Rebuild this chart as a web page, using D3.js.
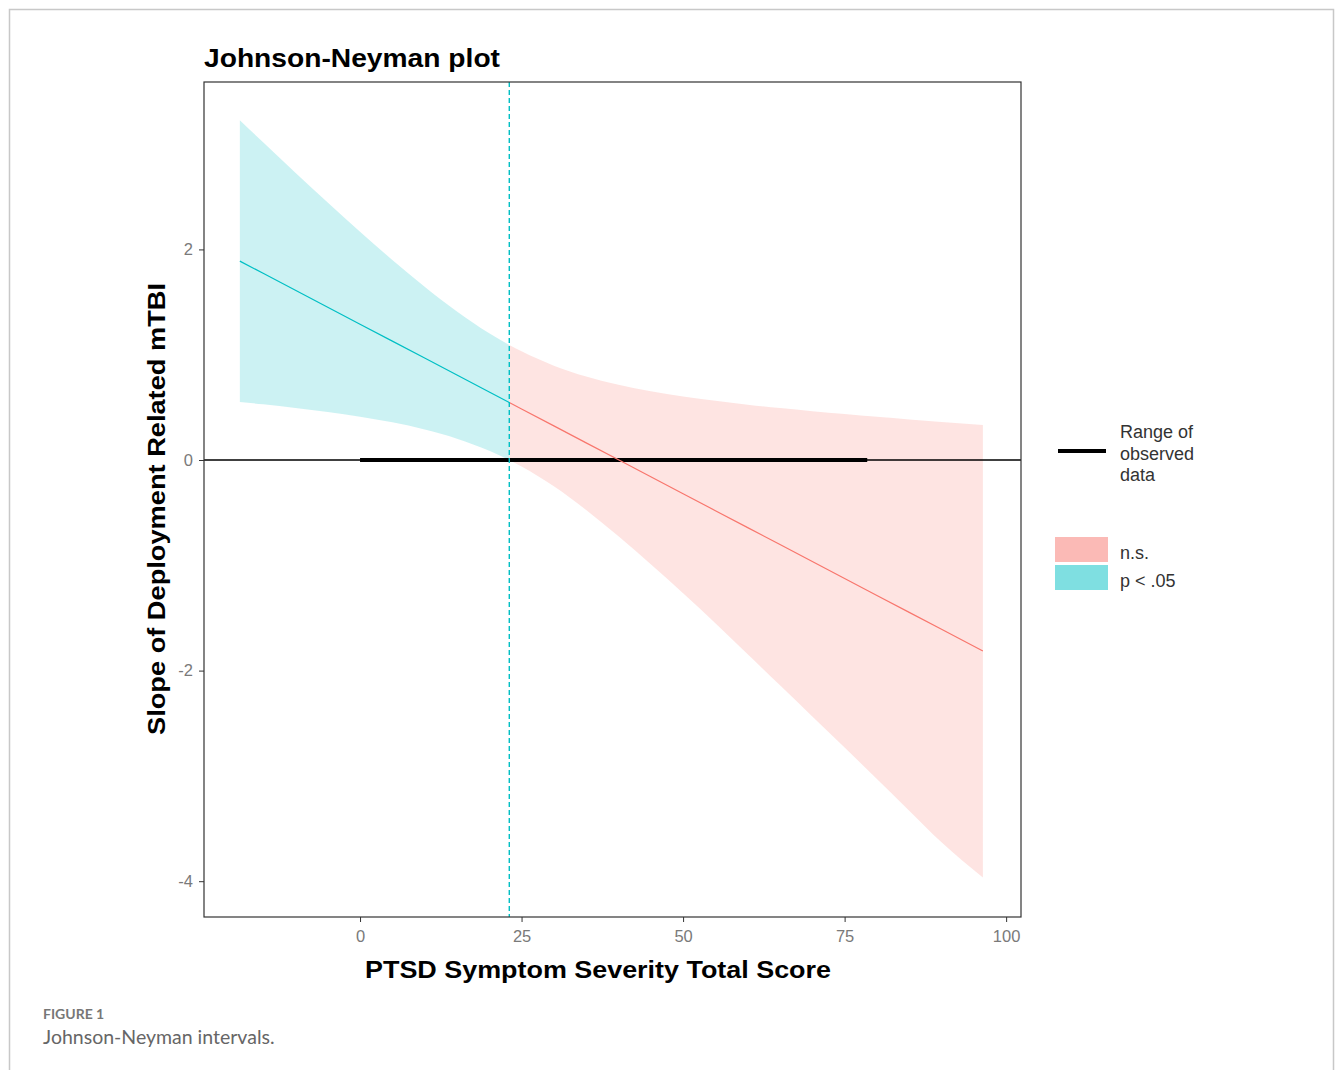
<!DOCTYPE html>
<html><head><meta charset="utf-8">
<script src="https://cdn.jsdelivr.net/npm/d3@7"></script>
<style>
body{margin:0;background:#fff;}
svg text{font-family:"Liberation Sans",Arial,sans-serif;}
</style></head>
<body>
<svg id="c" width="1335" height="1070"></svg>
<script>
// ---- data ----
const xTickValues = [0, 25, 50, 75, 100];
const yTickValues = [-4, -2, 0, 2];
const moderator = [-18.6, -15, -10, -5, 0, 5, 10, 15, 20, 23.1, 25, 30, 35, 40, 45, 50, 55, 60, 65, 70, 75, 80, 85, 90, 96.4];
const slope = [1.889, 1.773, 1.612, 1.451, 1.290, 1.129, 0.968, 0.807, 0.646, 0.546, 0.485, 0.324, 0.163, 0.002, -0.159, -0.320, -0.481, -0.642, -0.803, -0.964, -1.125, -1.286, -1.447, -1.608, -1.814];
const upperCI = [3.227, 3.017, 2.729, 2.446, 2.168, 1.900, 1.646, 1.411, 1.204, 1.093, 1.032, 0.896, 0.793, 0.715, 0.654, 0.604, 0.562, 0.526, 0.493, 0.463, 0.436, 0.410, 0.385, 0.361, 0.332];
const lowerCI = [0.551, 0.529, 0.495, 0.456, 0.412, 0.358, 0.290, 0.203, 0.088, 0.000, -0.062, -0.250, -0.475, -0.725, -0.990, -1.265, -1.550, -1.845, -2.140, -2.435, -2.730, -3.030, -3.330, -3.630, -3.965];
const jnPoint = 23.1;
const observedRange = [0, 78.5];
const legendLabels = ["n.s.", "p < .05"];

// ---- layout ----
const svg = d3.select("#c");
const P = {l:204, r:1021, t:82, b:917};
const x = d3.scaleLinear().domain([-24.15, 102.3]).range([P.l, P.r]);
const y = d3.scaleLinear().domain([-4.34, 3.59]).range([P.b, P.t]);
const teal = "#00BFC4", red = "#F8766D";

// outer frame
svg.append("path").attr("d","M9.5,1075 V9.5 H1333.5 V1075").attr("fill","none").attr("stroke","#c8c8c8").attr("stroke-width",1.5);

const data = moderator.map((m,i)=>({m, s:slope[i], u:upperCI[i], l:lowerCI[i]}));
const sig = data.filter(d=>d.m<=jnPoint);
const ns = data.filter(d=>d.m>=jnPoint);

svg.append("clipPath").attr("id","pc").append("rect")
  .attr("x",P.l).attr("y",P.t).attr("width",P.r-P.l).attr("height",P.b-P.t);
const g = svg.append("g").attr("clip-path","url(#pc)");

const area = d3.area().x(d=>x(d.m)).y0(d=>y(d.l)).y1(d=>y(d.u)).curve(d3.curveMonotoneX);
const line = d3.line().x(d=>x(d.m)).y(d=>y(d.s));
g.append("path").datum(sig).attr("d",area).attr("fill",teal).attr("fill-opacity",0.2);
g.append("path").datum(ns).attr("d",area).attr("fill",red).attr("fill-opacity",0.2);

// zero line
g.append("line").attr("x1",P.l).attr("x2",P.r).attr("y1",y(0)).attr("y2",y(0)).attr("stroke","#000").attr("stroke-width",1.4);
// observed range
g.append("line").attr("x1",x(observedRange[0])).attr("x2",x(observedRange[1])).attr("y1",y(0)).attr("y2",y(0)).attr("stroke","#000").attr("stroke-width",4);

g.append("path").datum(sig).attr("d",line).attr("fill","none").attr("stroke",teal).attr("stroke-width",1.2);
g.append("path").datum(ns).attr("d",line).attr("fill","none").attr("stroke",red).attr("stroke-width",1.2);

// JN line
g.append("line").attr("x1",x(jnPoint)).attr("x2",x(jnPoint)).attr("y1",P.t).attr("y2",P.b)
  .attr("stroke",teal).attr("stroke-width",1.4).attr("stroke-dasharray","5,3");

// panel border
svg.append("rect").attr("x",P.l).attr("y",P.t).attr("width",P.r-P.l).attr("height",P.b-P.t)
  .attr("fill","none").attr("stroke","#333").attr("stroke-width",1.2);

// axes
const fmt = d => String(d);
const xa = svg.append("g").attr("transform",`translate(0,${P.b})`)
  .call(d3.axisBottom(x).tickValues(xTickValues).tickFormat(fmt).tickSize(5).tickPadding(8));
const ya = svg.append("g").attr("transform",`translate(${P.l},0)`)
  .call(d3.axisLeft(y).tickValues(yTickValues).tickFormat(fmt).tickSize(5).tickPadding(6));
[xa,ya].forEach(a=>{
  a.select(".domain").remove();
  a.selectAll(".tick line").attr("stroke","#333");
  a.selectAll(".tick text").attr("fill","#7a7a7a").style("font-size","16.5px");
});

// titles
svg.append("text").attr("x",204).attr("y",67).text("Johnson-Neyman plot")
  .attr("textLength",296).attr("lengthAdjust","spacingAndGlyphs")
  .style("font-size","26px").style("font-weight","bold").attr("fill","#000");
svg.append("text").attr("x",365).attr("y",978).text("PTSD Symptom Severity Total Score")
  .attr("textLength",466).attr("lengthAdjust","spacingAndGlyphs")
  .style("font-size","24px").style("font-weight","bold").attr("fill","#000");
svg.append("text").attr("transform","translate(165,735) rotate(-90)")
  .attr("textLength",452).attr("lengthAdjust","spacingAndGlyphs")
  .text("Slope of Deployment Related mTBI").style("font-size","24px").style("font-weight","bold").attr("fill","#000");

// legend
svg.append("line").attr("x1",1058).attr("x2",1106).attr("y1",451).attr("y2",451).attr("stroke","#000").attr("stroke-width",4);
["Range of","observed","data"].forEach((t,i)=>{
  svg.append("text").attr("x",1120).attr("y",438+i*21.5).text(t).style("font-size","18px").attr("fill","#333");
});
const legColors = [red, teal];
legendLabels.forEach((t,i)=>{
  svg.append("rect").attr("x",1055).attr("y",537+i*28).attr("width",53).attr("height",25)
    .attr("fill",legColors[i]).attr("fill-opacity",0.5);
  svg.append("text").attr("x",1120).attr("y",559+i*28).text(t).style("font-size","18px").attr("fill","#333");
});

// caption
svg.append("text").attr("x",43).attr("y",1019).text("FIGURE 1")
  .style("font-family","Lato, 'Open Sans', sans-serif").style("font-size","14px").style("font-weight","bold").attr("fill","#777");
svg.append("text").attr("x",43).attr("y",1044).text("Johnson-Neyman intervals.")
  .style("font-family","Lato, 'Open Sans', sans-serif").style("font-size","19.5px").attr("fill","#666");
</script>
</body></html>
